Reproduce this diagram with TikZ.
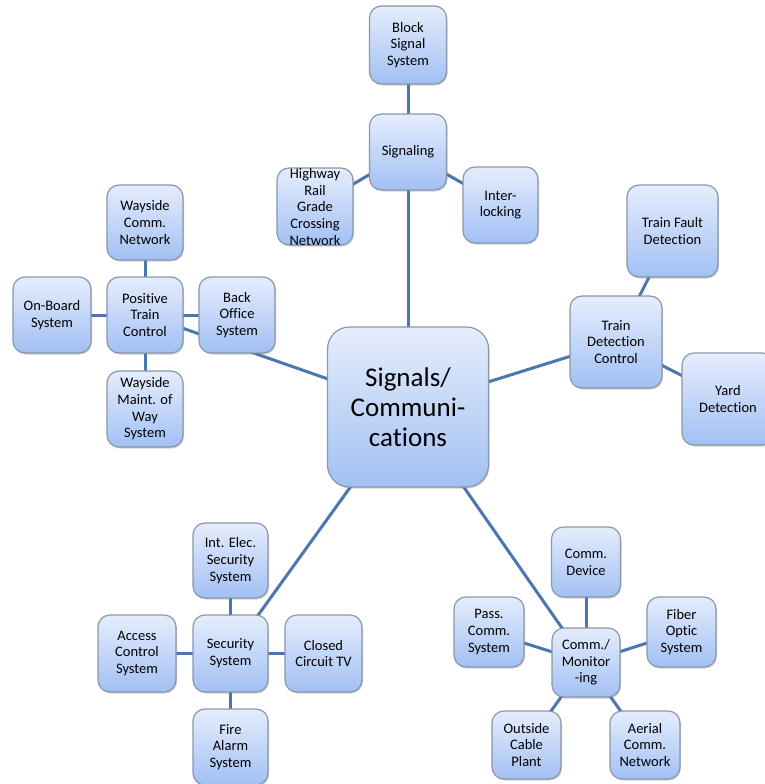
\documentclass[tikz,border=0pt]{standalone}
\usepackage{fontspec}
\setmainfont{Carlito}[Ligatures={NoCommon,NoRare}]
\usetikzlibrary{shadows,backgrounds}
\definecolor{linkblue}{HTML}{4A78AE}
\definecolor{boxtop}{HTML}{E5EDFC}
\definecolor{boxbot}{HTML}{A2C0F4}
\definecolor{boxedge}{HTML}{8A97AA}
\tikzset{
  sbox/.style={draw=boxedge, line width=1.2pt, rounded corners=12pt,
    top color=boxtop, bottom color=boxbot, inner sep=0pt,
    align=center, font=\fontsize{14.5}{16.7}\selectfont,
    drop shadow={shadow xshift=1pt, shadow yshift=-1.5pt, opacity=.3, fill=black!60}},
  bigbox/.style={sbox, rounded corners=22pt, font=\fontsize{27}{30}\selectfont},
  txt/.style={inner sep=0pt, align=center, font=\fontsize{14.5}{16.7}\selectfont},
  link/.style={draw=linkblue, line width=3pt}
}
\begin{document}
\begin{tikzpicture}[x=1pt,y=-1pt]
\useasboundingbox (0,0) rectangle (765,784);
\clip (0,0) rectangle (765,784);
% centre
\node[bigbox, minimum width=161pt, minimum height=160pt] (cen) at (408,407) {Signals/\\Communi-\\cations};
% signaling group
\node[sbox, minimum width=77pt, minimum height=78pt] (bss) at (408,45) {Block\\Signal\\System};
\node[sbox, minimum width=77pt, minimum height=76pt] (sig) at (408,152) {Signaling};
\node[sbox, minimum width=76pt, minimum height=77pt] (hrg) at (315,206.5) {};
\node[txt] (hrgtext) at (315,207) {Highway\\Rail\\Grade\\Crossing\\Network};
\node[sbox, minimum width=75pt, minimum height=76pt] (int) at (500.5,205) {Inter-\\locking};
% PTC group
\node[sbox, minimum width=76pt, minimum height=75pt] (wcn) at (145,222.5) {Wayside\\Comm.\\Network};
\node[sbox, minimum width=76pt, minimum height=76pt] (ptc) at (145,315) {Positive\\Train\\Control};
\node[sbox, minimum width=78pt, minimum height=76pt] (obs) at (52,315) {On-Board\\System};
\node[sbox, minimum width=76pt, minimum height=76pt] (bos) at (237,315) {Back\\Office\\System};
\node[sbox, minimum width=76pt, minimum height=76pt] (wmw) at (145,409) {Wayside\\Maint. of\\Way\\System};
% train detection group
\node[sbox, minimum width=91pt, minimum height=92pt] (tfd) at (672.5,231) {Train Fault\\Detection};
\node[sbox, minimum width=92pt, minimum height=92pt] (tdc) at (616,342) {Train\\Detection\\Control};
\node[sbox, minimum width=92pt, minimum height=92pt] (yrd) at (728,399) {Yard\\Detection};
% security group
\node[sbox, minimum width=75pt, minimum height=75pt] (ies) at (230.5,560.5) {Int. Elec.\\Security\\System};
\node[sbox, minimum width=75pt, minimum height=77pt] (sec) at (230.5,653.5) {Security\\System};
\node[sbox, minimum width=78pt, minimum height=77pt] (acs) at (137,653.5) {Access\\Control\\System};
\node[sbox, minimum width=77pt, minimum height=77pt] (cct) at (323.5,653.5) {Closed\\Circuit TV};
\node[sbox, minimum width=75pt, minimum height=76pt] (fas) at (230.5,747) {Fire\\Alarm\\System};
% communications group
\node[sbox, minimum width=69pt, minimum height=70pt] (cdv) at (586,562) {Comm.\\Device};
\node[sbox, minimum width=68pt, minimum height=69pt] (cmm) at (586,662.5) {Comm./\\Monitor\\-ing};
\node[sbox, minimum width=70pt, minimum height=70pt] (pcs) at (489,632) {Pass.\\Comm.\\System};
\node[sbox, minimum width=69pt, minimum height=70pt] (fos) at (681.5,632) {Fiber\\Optic\\System};
\node[sbox, minimum width=69pt, minimum height=68pt] (ocp) at (526.5,745) {Outside\\Cable\\Plant};
\node[sbox, minimum width=70pt, minimum height=68pt] (acn) at (645,745) {Aerial\\Comm.\\Network};
\begin{pgfonlayer}{background}
\draw[link] (cen.center) -- (sig.center);
\draw[link] (cen.center) -- (ptc.center);
\draw[link] (cen.center) -- (tdc.center);
\draw[link] (cen.center) -- (sec.center);
\draw[link] (cen.center) -- (cmm.center);
\draw[link] (sig.center) -- (bss.center);
\draw[link] (sig.center) -- (hrg.center);
\draw[link] (sig.center) -- (int.center);
\draw[link] (ptc.center) -- (wcn.center);
\draw[link] (ptc.center) -- (obs.center);
\draw[link] (ptc.center) -- (bos.center);
\draw[link] (ptc.center) -- (wmw.center);
\draw[link] (tdc.center) -- (tfd.center);
\draw[link] (tdc.center) -- (yrd.center);
\draw[link] (sec.center) -- (ies.center);
\draw[link] (sec.center) -- (acs.center);
\draw[link] (sec.center) -- (cct.center);
\draw[link] (sec.center) -- (fas.center);
\draw[link] (cmm.center) -- (cdv.center);
\draw[link] (cmm.center) -- (pcs.center);
\draw[link] (cmm.center) -- (fos.center);
\draw[link] (cmm.center) -- (ocp.center);
\draw[link] (cmm.center) -- (acn.center);
\end{pgfonlayer}
\end{tikzpicture}
\end{document}
